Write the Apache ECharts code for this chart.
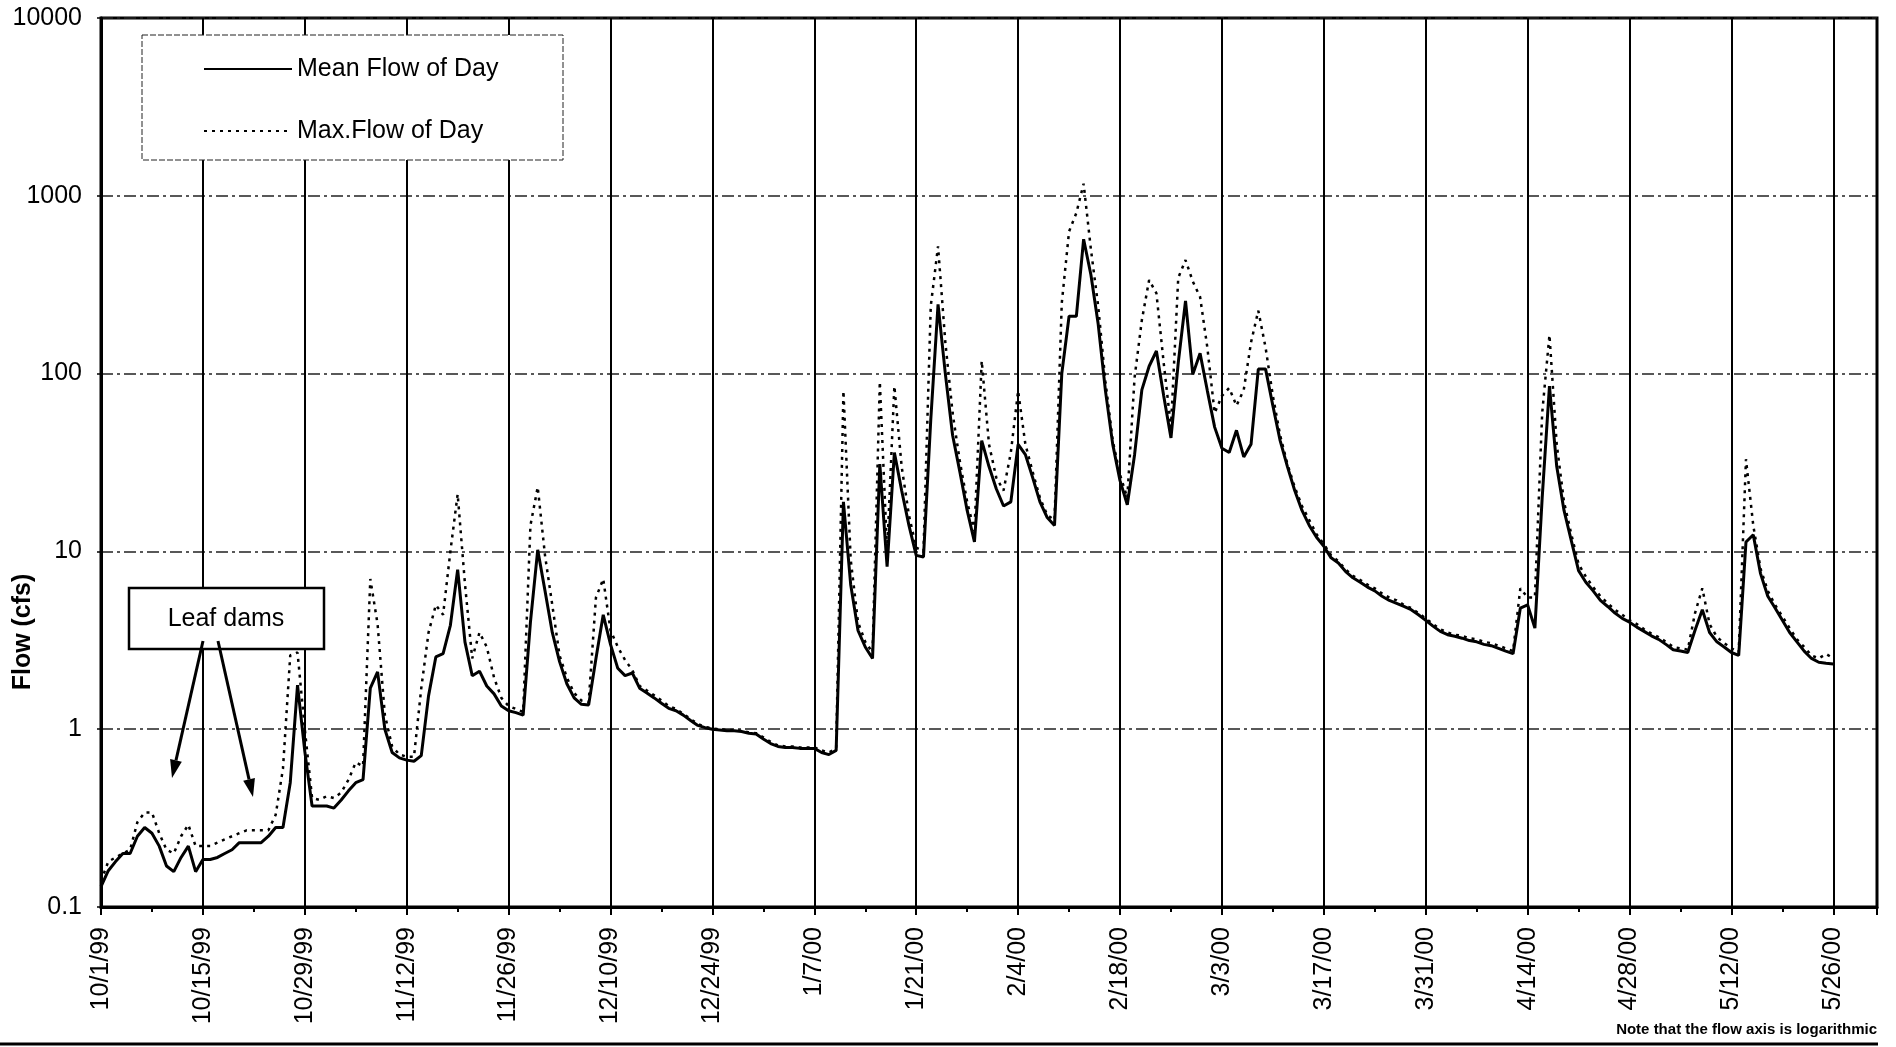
<!DOCTYPE html>
<html lang="en">
<head>
<meta charset="UTF-8">
<title>Flow</title>
<style>
    * {
        margin: 0;
        padding: 0;
    }

    body {
        background: #fff;
    }

    .echarts {
        width: 1896px;
        height: 1047px;
    }
</style>
<script src="https://cdn.jsdelivr.net/npm/echarts@6/dist/echarts.min.js"></script>
</head>

<body>
    <div id="echarts" class="echarts"></div>
</body>

<script>
// daily values, day 0 = 10/1/99
var meanFlow = [
    0.13, 0.16, 0.18, 0.2, 0.2, 0.25, 0.28, 0.26, 0.22, 0.17,
    0.158, 0.19, 0.22, 0.158, 0.185, 0.185, 0.19, 0.2, 0.21, 0.23,
    0.23, 0.23, 0.23, 0.25, 0.28, 0.28, 0.5, 1.77, 0.75, 0.37,
    0.37, 0.37, 0.36, 0.4, 0.45, 0.5, 0.52, 1.7, 2.1, 1.0,
    0.74, 0.69, 0.67, 0.66, 0.71, 1.54, 2.55, 2.66, 3.84, 7.9,
    3.1, 2.0, 2.12, 1.75, 1.58, 1.35, 1.27, 1.24, 1.2, 4.0,
    10.2, 6.0, 3.5, 2.4, 1.8, 1.5, 1.38, 1.37, 2.5, 4.4,
    3.0, 2.2, 2.0, 2.07, 1.7, 1.6, 1.5, 1.4, 1.31, 1.27,
    1.2, 1.12, 1.05, 1.02, 1.0, 0.99, 0.98, 0.98, 0.97, 0.95,
    0.94, 0.88, 0.83, 0.8, 0.79, 0.79, 0.78, 0.78, 0.78, 0.74,
    0.72, 0.76, 19, 6.5, 3.6, 2.9, 2.5, 31, 8.2, 36,
    22, 14, 9.5, 9.3, 55, 245, 100, 45, 28, 17,
    11.3, 42, 30, 22.5, 18, 19, 40, 35, 26, 19,
    15.5, 14, 100, 210, 210, 570, 360, 190, 80, 40,
    25, 18.3, 35, 81, 110, 134, 75, 43.5, 115, 256,
    99, 130, 80, 50, 38, 36, 48, 34, 40, 106,
    106, 66, 42, 30, 22, 17, 14, 12, 10.7, 9.2,
    8.6, 7.7, 7.1, 6.7, 6.3, 6.0, 5.6, 5.3, 5.1, 4.9,
    4.7, 4.4, 4.1, 3.8, 3.55, 3.4, 3.33, 3.25, 3.15, 3.1,
    3.0, 2.95, 2.85, 2.75, 2.66, 4.8, 5.0, 3.7, 20, 85,
    30, 17, 11.5, 7.8, 6.7, 6.0, 5.3, 4.9, 4.5, 4.2,
    4.0, 3.75, 3.55, 3.35, 3.2, 3.0, 2.8, 2.75, 2.7, 3.6,
    4.7, 3.5, 3.1, 2.9, 2.7, 2.6, 11.3, 12.4, 7.5, 5.6,
    4.8, 4.1, 3.5, 3.1, 2.75, 2.5, 2.38, 2.35, 2.33
];
var maxFlow = [
    0.14, 0.18, 0.19, 0.2, 0.21, 0.3, 0.34, 0.34, 0.26, 0.21,
    0.2, 0.25, 0.29, 0.22, 0.22, 0.22, 0.23, 0.24, 0.25, 0.26,
    0.27, 0.27, 0.27, 0.27, 0.33, 0.6, 2.6, 2.7, 1.0, 0.41,
    0.4, 0.42, 0.41, 0.44, 0.52, 0.65, 0.62, 7.0, 3.9, 1.2,
    0.8, 0.72, 0.7, 0.7, 1.7, 3.5, 5.0, 4.4, 10, 21,
    6.6, 2.5, 3.5, 2.9, 1.95, 1.5, 1.35, 1.3, 1.25, 14,
    23, 9.5, 5.0, 2.6, 1.95, 1.6, 1.45, 1.42, 5.5, 7.0,
    3.6, 2.9, 2.45, 2.15, 1.75, 1.65, 1.55, 1.45, 1.35, 1.3,
    1.22, 1.14, 1.07, 1.03, 1.01, 1.0, 0.99, 0.99, 0.98, 0.96,
    0.95, 0.9, 0.85, 0.81, 0.8, 0.8, 0.79, 0.79, 0.79, 0.76,
    0.74, 0.78, 80, 9.0, 4.0, 3.1, 2.7, 90, 10, 85,
    30, 16, 10.5, 10, 240, 520, 150, 60, 32, 19,
    13, 118, 40, 26, 22, 36, 80, 40, 28, 20,
    16, 15, 250, 630, 800, 1170, 500, 240, 90, 42,
    27, 20, 95, 200, 336, 283, 115, 50, 346, 435,
    330, 270, 140, 60, 75, 83, 66, 81, 150, 226,
    140, 75, 45, 31, 23, 18, 15, 12.5, 11, 9.5,
    8.8, 7.9, 7.3, 6.9, 6.5, 6.2, 5.8, 5.5, 5.3, 5.0,
    4.8, 4.5, 4.2, 3.9, 3.65, 3.5, 3.4, 3.35, 3.25, 3.2,
    3.1, 3.05, 2.95, 2.85, 2.75, 6.2, 5.5, 5.5, 60, 165,
    40, 19, 12.5, 8.5, 7.2, 6.3, 5.6, 5.1, 4.7, 4.4,
    4.1, 3.9, 3.65, 3.45, 3.3, 3.1, 2.9, 2.85, 2.8, 4.5,
    6.2, 3.9, 3.3, 3.05, 2.85, 2.7, 33, 14, 8.0, 6.0,
    5.0, 4.3, 3.7, 3.2, 2.9, 2.6, 2.5, 2.65, 2.5
];
var seriesNames = ['Mean Flow of Day', 'Max.Flow of Day'];
var yTicks = [0.1, 1, 10, 100, 1000, 10000];
var tickDays = 14; // one label every 2 weeks
var lastTickDay = 238; // 5/26/00
var axisDays = 244; // axis runs to 6/1/00

var font = "'Liberation Sans', Arial, sans-serif";
var chart, option;

window.onload = function init() {
    chart = echarts.init(document.getElementById("echarts"));
    createChart();
}

function dayLabel(v) {
    if (v % tickDays !== 0 || v > lastTickDay) return '';
    var d = new Date(1999, 9, 1 + v);
    return (d.getMonth() + 1) + '/' + d.getDate() + '/' + String(d.getFullYear()).slice(2);
}

function toPairs(arr) {
    return arr.map(function (v, i) { return [i, v]; });
}

// line + arrowhead, coordinates in px
function arrow(x1, y1, x2, y2) {
    var dx = x2 - x1, dy = y2 - y1;
    var len = Math.sqrt(dx * dx + dy * dy);
    var ux = dx / len, uy = dy / len;
    var hl = 18, hw = 6;
    var bx = x2 - ux * hl, by = y2 - uy * hl;
    return [{
        type: 'line',
        shape: { x1: x1, y1: y1, x2: bx, y2: by },
        style: { stroke: '#000', lineWidth: 3 },
        z: 20
    }, {
        type: 'polygon',
        shape: { points: [[x2, y2], [bx - uy * hw, by + ux * hw], [bx + uy * hw, by - ux * hw]] },
        style: { fill: '#000' },
        z: 20
    }];
}

function createChart() {
    var graphics = [
        { // legend frame
            type: 'rect',
            shape: { x: 142, y: 35, width: 421, height: 125 },
            style: { fill: '#fff', stroke: '#222', lineWidth: 1, lineDash: [6, 2] },
            z: 10
        },
        { // leaf dams box
            type: 'rect',
            shape: { x: 129, y: 588, width: 195, height: 61 },
            style: { fill: '#fff', stroke: '#000', lineWidth: 2.5 },
            z: 20
        },
        {
            type: 'text',
            x: 226, y: 619,
            style: { text: 'Leaf dams', font: '25px ' + font, fill: '#000', textAlign: 'center', textVerticalAlign: 'middle' },
            z: 21
        },
        { // y axis title
            type: 'text',
            x: 23, y: 632,
            rotation: Math.PI / 2,
            style: { text: 'Flow (cfs)', font: 'bold 25px ' + font, fill: '#000', textAlign: 'center', textVerticalAlign: 'middle' },
            z: 20
        },
        {
            type: 'text',
            x: 1877, y: 1030,
            style: { text: 'Note that the flow axis is logarithmic', font: 'bold 15px ' + font, fill: '#000', textAlign: 'right', textVerticalAlign: 'middle' },
            z: 20
        },
        {
            type: 'line',
            shape: { x1: 0, y1: 1044, x2: 1878, y2: 1044 },
            style: { stroke: '#000', lineWidth: 3 },
            z: 20
        }
    ];
    graphics = graphics.concat(arrow(203, 641, 172, 778), arrow(218, 641, 253, 797));

    option = {
        backgroundColor: '#fff',
        animation: false,
        grid: {
            left: 101,
            right: 19,
            top: 18,
            bottom: 140,
            show: true,
            borderColor: '#000',
            borderWidth: 3
        },
        legend: {
            data: seriesNames,
            orient: 'vertical',
            left: 198,
            top: 51,
            itemWidth: 88,
            itemHeight: 14,
            itemGap: 36,
            z: 11,
            itemStyle: { opacity: 0 },
            textStyle: { fontSize: 25, lineHeight: 26, color: '#000', fontFamily: font }
        },
        xAxis: {
            type: 'value',
            min: 0,
            max: axisDays,
            interval: tickDays,
            axisLine: { lineStyle: { color: '#000', width: 3 } },
            axisTick: { show: true, length: 8, lineStyle: { color: '#000', width: 2 } },
            minorTick: { show: true, splitNumber: 2, length: 5, lineStyle: { color: '#000', width: 2 } },
            splitLine: { show: true, lineStyle: { color: '#000', width: 2 } },
            axisLabel: {
                rotate: 90,
                margin: 20,
                fontSize: 25,
                color: '#000',
                fontFamily: font,
                showMaxLabel: false,
                formatter: dayLabel
            }
        },
        yAxis: {
            type: 'log',
            logBase: 10,
            min: yTicks[0],
            max: yTicks[yTicks.length - 1],
            axisLine: { show: true, lineStyle: { color: '#000', width: 3 } },
            axisTick: { show: true, length: 4, lineStyle: { color: '#000', width: 1.5 } },
            splitLine: { show: true, lineStyle: { color: '#222', width: 1.5, type: [12, 4, 3, 4] } },
            axisLabel: {
                fontSize: 25,
                margin: 19,
                color: '#000',
                fontFamily: font,
                formatter: function (v) { return String(+v.toPrecision(3)); }
            }
        },
        series: [{
            name: seriesNames[0],
            type: 'line',
            data: toPairs(meanFlow),
            symbol: 'none',
            lineStyle: { color: '#000', width: 3 },
            itemStyle: { color: '#000' },
            z: 4
        }, {
            name: seriesNames[1],
            type: 'line',
            data: toPairs(maxFlow),
            symbol: 'none',
            lineStyle: { color: '#000', width: 2.5, type: [3, 5] },
            itemStyle: { color: '#000' },
            z: 3
        }],
        graphic: graphics
    };
    chart.setOption(option);
}
</script>
</html>
